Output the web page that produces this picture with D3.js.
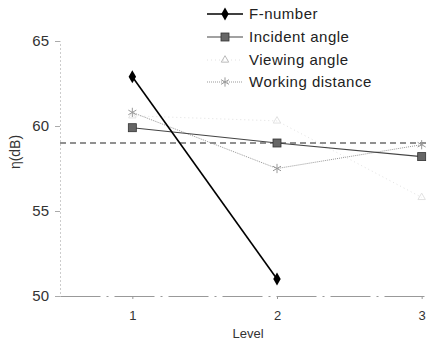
<!DOCTYPE html>
<html>
<head>
<meta charset="utf-8"/>
<script src="https://cdn.jsdelivr.net/npm/d3@7/dist/d3.min.js"></script>
<style>
  html,body { margin:0; padding:0; background:#fff; overflow:hidden; }
  svg { display:block; font-family:"Liberation Sans", Arial, sans-serif; }
</style>
</head>
<body>
<svg width="430" height="351"></svg>
<script>
// data
const levels      = [1, 2, 3];
const fNumber     = [62.9, 51.0];
const incident    = [59.9, 59.0, 58.2];
const viewing     = [60.6, 60.3, 55.8];
const working     = [60.8, 57.5, 58.9];
const meanLine    = 59.0;
const yTicks      = [50, 55, 60, 65];
const seriesNames = ["F-number", "Incident angle", "Viewing angle", "Working distance"];

const svg = d3.select("svg");
const x = d3.scaleLinear().domain([0.5, 3.5]).range([60, 494]);
const y = d3.scaleLinear().domain([50, 65]).range([296, 41]);

// axes (faint, like the scan)
const yAxis = svg.append("g").attr("transform", "translate(60,0)")
  .call(d3.axisLeft(y).tickValues(yTicks).tickSize(5).tickPadding(6));
yAxis.select(".domain").attr("stroke", "#ccc").attr("stroke-dasharray", "2,2");
yAxis.selectAll(".tick line").attr("stroke", "#aaa");
yAxis.selectAll("text").attr("font-size", 15).attr("fill", "#333");

const xAxis = svg.append("g").attr("transform", "translate(0,296)")
  .call(d3.axisBottom(x).tickValues(levels).tickFormat(d3.format("d"))
    .tickSize(3).tickPadding(12).tickSizeOuter(0));
xAxis.select(".domain").attr("stroke", "#999").attr("stroke-dasharray", "40,6,2,6");
xAxis.selectAll(".tick line").attr("stroke", "#999");
xAxis.selectAll("text").attr("font-size", 13).attr("fill", "#333");

svg.append("text").attr("x", 248).attr("y", 338).attr("text-anchor", "middle")
  .attr("font-size", 13).attr("fill", "#333").text("Level");
svg.append("text").attr("transform", "translate(20,152) rotate(-90)")
  .attr("text-anchor", "middle").attr("font-size", 14).attr("fill", "#333").text("η(dB)");

// dashed reference line
svg.append("line")
  .attr("x1", 60).attr("x2", 430).attr("y1", y(meanLine)).attr("y2", y(meanLine))
  .attr("stroke", "#222").attr("stroke-width", 1.2).attr("stroke-dasharray", "6,4");

const line = d3.line().x((d, i) => x(levels[i])).y(d => y(d));

const styles = [
  { data: fNumber,  color: "#000", width: 1.6, dash: null,  mark: "diamond" },
  { data: incident, color: "#444", width: 1.1, dash: null,  mark: "square"  },
  { data: viewing,  color: "#e2e2e2", width: 1, dash: "1,3", mark: "tri"    },
  { data: working,  color: "#999", width: 1,   dash: "1,1", mark: "x"       }
];

function marker(g, type, cx, cy, color) {
  if (type === "diamond") {
    g.append("path").attr("d", d3.symbol(d3.symbolDiamond, 48)())
      .attr("transform", `translate(${cx},${cy})`).attr("fill", color);
  } else if (type === "square") {
    g.append("rect").attr("x", cx - 4).attr("y", cy - 4).attr("width", 8).attr("height", 8)
      .attr("fill", "#666").attr("stroke", "#333").attr("stroke-width", 0.8);
  } else if (type === "tri") {
    g.append("path").attr("d", d3.symbol(d3.symbolTriangle, 24)())
      .attr("transform", `translate(${cx},${cy})`).attr("fill", "none").attr("stroke", color);
  } else {
    g.append("path").attr("d", d3.symbol(d3.symbolAsterisk, 60)())
      .attr("transform", `translate(${cx},${cy})`).attr("fill", "none")
      .attr("stroke", color).attr("stroke-width", 1);
  }
}

// draw series in back-to-front order
[2, 3, 1, 0].forEach(k => {
  const s = styles[k];
  const g = svg.append("g");
  g.append("path").attr("d", line(s.data)).attr("fill", "none")
    .attr("stroke", s.color).attr("stroke-width", s.width)
    .attr("stroke-dasharray", s.dash);
  s.data.forEach((v, i) => marker(g, s.mark, x(levels[i]), y(v), s.color));
});

// legend
const legRows = [14, 37, 60, 82];
seriesNames.forEach((name, k) => {
  const s = styles[k];
  const g = svg.append("g");
  const ly = legRows[k];
  g.append("line").attr("x1", 207).attr("x2", 243).attr("y1", ly).attr("y2", ly)
    .attr("stroke", s.color).attr("stroke-width", s.width).attr("stroke-dasharray", s.dash);
  marker(g, s.mark, 225, ly, k === 2 ? "#bbb" : s.color);
  g.append("text").attr("x", 249).attr("y", ly + 5).attr("font-size", 15)
    .attr("letter-spacing", 0.5).attr("fill", "#222").text(name);
});
</script>
</body>
</html>
